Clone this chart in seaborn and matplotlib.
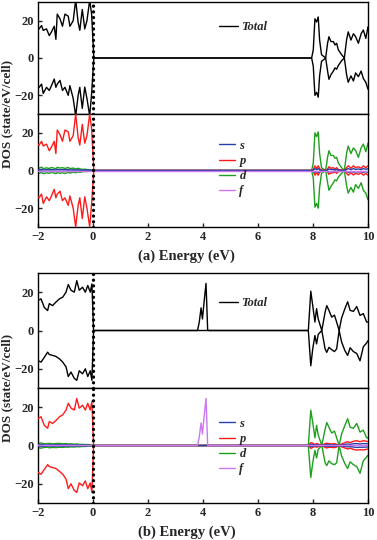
import matplotlib
matplotlib.use("Agg")
import matplotlib.pyplot as plt
import seaborn as sns

# ---------- panel (a) ----------
energy_a = [-2.0, -1.96, -1.87, -1.81, -1.69, -1.59, -1.51, -1.41, -1.35, -1.30, -1.20, -1.11, -1.02,
            -0.90, -0.84, -0.72, -0.63, -0.54, -0.48, -0.39, -0.30, -0.22, -0.12, -0.05, 0.03,
            7.95, 8.01, 8.07, 8.13, 8.19, 8.24, 8.31, 8.46, 8.53, 8.58, 8.65, 8.74, 8.80, 8.86,
            8.92, 9.04, 9.14, 9.22, 9.28, 9.38, 9.47, 9.55, 9.65, 9.75, 9.83, 9.92, 10.0]
tot_up_a = [16, 15.6, 17.4, 14.8, 15.6, 12, 14, 17, 10, 23.5, 21, 17, 23.5, 22.4, 17, 20, 31, 19, 14.8, 26,
            15.6, 20, 31, 23.5, 0,
            0, 4.4, 21, 19.3, 22, 9.6, 1.8, 0, 7.9, 11.4, 8.8, 8.8, 7, 7.9, 4.4, 1.8, 0, 9.6, 14, 9.6,
            13, 11.4, 7.9, 13, 15, 10.5, 16.7]
tot_dn_a = [-16, -15.7, -14, -19, -15.7, -17.4, -14.8, -11.3, -15.7, -14, -12, -17.4, -15.7, -20, -14.8,
            -21.7, -31, -20, -15.7, -27, -15.6, -21.7, -31, -19, 0,
            0, -4.4, -20, -18.4, -21, -9.6, -1.8, 0, -7, -11.4, -9, -7, -5.3, -6, -4, -1.5, 0, -8.8,
            -13, -9.6, -12.3, -8, -10, -7, -11, -13, -16.7]
s_up_a = [0.5, 0.4, 0.6, 0.3, 0.5, 0.4, 0.5, 0.4, 0.3, 0.6, 0.4, 0.5, 0.4, 0.5, 0.3, 0.4, 0.3, 0.4, 0.3,
          0.2, 0.3, 0.2, 0.2, 0.1, 0,
          0, 0.2, 1.0, 0.4, 1.0, 0.4, 0.1, 0, 0.3, 0.8, 0.5, 0.6, 0.3, 0.6, 0.2, 0.1, 0, 0.6, 1.0, 0.5,
          1.0, 0.6, 0.8, 0.5, 1.0, 0.6, 1.0]
s_dn_a = [-0.4, -0.5, -0.3, -0.6, -0.4, -0.5, -0.3, -0.5, -0.6, -0.4, -0.5, -0.4, -0.5, -0.3, -0.5, -0.3,
          -0.4, -0.3, -0.3, -0.2, -0.2, -0.2, -0.1, -0.1, 0,
          0, -0.2, -1.0, -0.5, -1.0, -0.4, -0.1, 0, -0.3, -0.8, -0.6, -0.5, -0.3, -0.6, -0.2, -0.1, 0,
          -0.5, -1.0, -0.5, -0.9, -0.6, -0.8, -0.5, -1.0, -0.6, -1.0]
p_up_a = [14, 13.5, 15.5, 13, 14, 10.5, 12.5, 15.5, 9, 21.5, 19, 15.5, 21.5, 20.5, 15.5, 18.5, 30, 17.5,
          13.5, 24.5, 14.5, 18.5, 30, 22, 0,
          0, 0.5, 2.5, 1.0, 2.5, 1.0, 0.3, 0, 0.8, 2.0, 1.2, 1.5, 0.8, 1.5, 0.5, 0.3, 0, 1.5, 2.5, 1.2,
          2.5, 1.5, 2.0, 1.2, 2.5, 1.5, 2.5]
p_dn_a = [-14, -14.5, -12.5, -17.5, -14, -16, -13.5, -10, -14.5, -12.5, -11, -16, -14.5, -18.5, -13.5,
          -20, -30, -18.5, -14.5, -25.5, -14, -20, -30, -17.5, 0,
          0, -0.5, -2.5, -1.2, -2.5, -1.0, -0.3, 0, -0.8, -2.0, -1.4, -1.2, -0.8, -1.5, -0.6, -0.3, 0,
          -1.4, -2.5, -1.2, -2.4, -1.5, -2.0, -1.3, -2.5, -1.6, -2.5]
d_up_a = [1.5, 1.2, 1.8, 1.0, 1.4, 1.1, 1.6, 1.2, 0.9, 1.7, 1.3, 1.5, 1.1, 1.6, 1.0, 1.3, 0.8, 1.2, 0.9,
          0.6, 0.7, 0.5, 0.4, 0.3, 0,
          0, 4, 20, 18, 20.5, 9, 1.5, 0, 7, 10.5, 8, 8, 6.5, 7, 4, 1.5, 0, 9, 13, 9, 12, 10.5, 7, 12,
          14, 10, 14.5]
d_dn_a = [-1.3, -1.6, -1.0, -1.7, -1.2, -1.5, -1.0, -1.4, -1.7, -1.1, -1.5, -1.2, -1.6, -1.0, -1.4, -0.9,
          -1.2, -0.8, -1.0, -0.7, -0.5, -0.6, -0.3, -0.4, 0,
          0, -4, -19.5, -17.5, -20, -9, -1.5, 0, -6.5, -10.5, -8.5, -6.5, -5, -5.5, -3.5, -1.5, 0, -8,
          -12, -9, -11.5, -7.5, -9.5, -6.5, -10.5, -12, -15.5]
f_energy_a = [-2.0, 10.0]
f_a = [0, 0]

# ---------- panel (b) ----------
energy_b = [-2.0, -1.89, -1.77, -1.65, -1.59, -1.47, -1.35, -1.22, -1.10, -0.98, -0.90, -0.80, -0.68,
            -0.59, -0.50, -0.38, -0.28, -0.19, -0.10, -0.04, 0.02,
            7.83, 7.92, 7.99, 8.07, 8.13, 8.19, 8.32, 8.44, 8.50, 8.58, 8.68, 8.78, 8.86, 8.95, 9.04,
            9.16, 9.26, 9.35, 9.47, 9.59, 9.71, 9.83, 9.95, 10.0]
energy_b_up = [-2.0, -1.89, -1.77, -1.65, -1.59, -1.47, -1.35, -1.22, -1.10, -0.98, -0.90, -0.80, -0.68,
               -0.59, -0.50, -0.38, -0.28, -0.19, -0.10, -0.04, 0.02,
               3.80, 3.86, 3.93, 3.98, 4.04, 4.11, 4.17,
               7.83, 7.92, 7.99, 8.07, 8.13, 8.19, 8.32, 8.44, 8.50, 8.58, 8.68, 8.78, 8.86, 8.95, 9.04,
               9.16, 9.26, 9.35, 9.47, 9.59, 9.71, 9.83, 9.95, 10.0]
tot_up_b = [15.7, 16.5, 12, 10.4, 14, 13, 14.8, 16.5, 17.4, 20, 24, 21, 20, 26, 21, 22.6, 20, 23.5, 20,
            24.3, 0,
            0, 4, 11.8, 6, 15, 24.6, 0,
            0, 20.5, 13, 4.4, 11.4, 6, 0, 9.6, 13, 10.5, 7, 8, 4.4, 0, 6.5, 11.4, 15, 10.5, 10, 12.5,
            7.9, 8.8, 4.4, 4.4]
tot_dn_b = [-15.7, -16.5, -14, -11.3, -12.5, -13, -13.5, -14.8, -16.5, -19, -24, -21.7, -25, -26, -21,
            -22.6, -20, -24, -21, -26, 0,
            0, -18.4, -9.6, -2.6, -7, -2, 0, -9.6, -11.4, -8.8, -10, -11, -9.6, 0, -6, -10.5, -13, -9,
            -11, -12, -15.8, -8.5, -6.5, -5.3]
s_up_b = [0.4, 0.5, 0.3, 0.3, 0.4, 0.3, 0.4, 0.4, 0.3, 0.4, 0.3, 0.3, 0.3, 0.3, 0.2, 0.2, 0.2, 0.2, 0.1,
          0.1, 0,
          0, 0.6, 0.5, 0.2, 0.4, 0.3, 0, 0.4, 0.5, 0.4, 0.3, 0.4, 0.3, 0, 0.3, 0.6, 0.8, 0.6, 0.9,
          1.0, 0.8, 1.0, 0.9, 0.8]
s_dn_b = [-0.3, -0.4, -0.4, -0.3, -0.3, -0.4, -0.3, -0.3, -0.4, -0.3, -0.3, -0.3, -0.2, -0.3, -0.2, -0.2,
          -0.2, -0.1, -0.1, -0.1, 0,
          0, -0.6, -0.4, -0.2, -0.4, -0.2, 0, -0.4, -0.5, -0.4, -0.4, -0.4, -0.3, 0, -0.3, -0.5, -0.7,
          -0.6, -0.8, -1.0, -0.9, -0.9, -0.8, -0.7]
p_up_b = [14, 15, 10.5, 9, 12.5, 11.5, 13, 15, 16, 18.5, 22, 19.5, 18.5, 24.5, 19.5, 21, 18.5, 22, 18.5,
          23, 0,
          0, 1.5, 1.2, 0.5, 1.0, 0.8, 0, 1.0, 1.2, 1.0, 0.8, 1.0, 0.6, 0, 0.8, 1.5, 2.0, 1.5, 2.2,
          2.5, 2.0, 2.5, 2.2, 2.0]
p_dn_b = [-14, -15, -12.5, -10, -11, -11.5, -12, -13.5, -15, -17.5, -22.5, -20, -23.5, -24.5, -19.5, -21,
          -18.5, -22.5, -19.5, -24.5, 0,
          0, -1.5, -1.0, -0.5, -0.9, -0.6, 0, -1.0, -1.3, -0.9, -1.0, -1.1, -0.8, 0, -0.7, -1.3, -1.8,
          -1.4, -2.0, -2.4, -2.2, -2.3, -2.0, -1.8]
d_up_b = [1.2, 1.3, 0.9, 1.0, 1.1, 0.9, 1.0, 1.1, 0.9, 1.0, 0.8, 0.9, 0.7, 0.8, 0.6, 0.6, 0.5, 0.5, 0.4,
          0.3, 0,
          0, 18.4, 12, 4, 10.5, 5.5, 0, 8.5, 12, 9.5, 6.5, 7.5, 4, 0, 6, 10.5, 14, 9.5, 9, 11.5, 7, 8,
          4, 4]
d_dn_b = [-1.1, -1.4, -1.0, -0.9, -1.2, -1.0, -1.1, -0.9, -1.0, -0.8, -0.9, -0.7, -0.8, -0.6, -0.7, -0.5,
          -0.5, -0.4, -0.3, -0.3, 0,
          0, -16.7, -9, -2.5, -6.5, -2, 0, -9, -10.5, -8, -9.5, -10, -9, 0, -5.5, -9.5, -12, -8.5, -10,
          -11, -14.5, -8, -6, -5]
f_energy_b = [-2.0, 3.80, 3.86, 3.93, 3.98, 4.04, 4.11, 4.17, 10.0]
f_b = [0, 0, 4, 11.8, 6, 15, 24.6, 0, 0]

x_ticks = [-2, 0, 2, 4, 6, 8, 10]
y_ticks = [-20, 0, 20]
panel_labels = ["(a) Energy (eV)", "(b) Energy (eV)"]
ylabel = "DOS (state/eV/cell)"

colors = {"Total": "black", "s": "#2b3fa8", "p": "#ff1a1a", "d": "#1ea01e", "f": "#cc77f0"}

sns.set_style("white")
plt.rcParams["font.family"] = ["Liberation Serif", "DejaVu Serif"]
plt.rcParams["font.weight"] = "bold"
plt.rcParams["axes.linewidth"] = 1.0

fig = plt.figure(figsize=(3.77, 5.40), dpi=100)

left, width = 38 / 377, 330 / 377
# (top_px, bottom_px) for each of the four axes
boxes = [(2, 114), (114, 227), (273, 388), (388, 503)]
axes = []
for top, bot in boxes:
    axes.append(fig.add_axes([left, 1 - bot / 540, width, (bot - top) / 540]))

leg_font = dict(family="Liberation Serif", weight="bold", style="italic", size=9)


def draw(ax, x, y, color, lw=1.0, z=2):
    sns.lineplot(x=x, y=y, ax=ax, color=color, linewidth=lw, zorder=z, sort=False, estimator=None)
    return ax.lines[-1]


panels = [
    dict(e=energy_a, e_up=energy_a, tot_up=tot_up_a, tot_dn=tot_dn_a, s=(s_up_a, s_dn_a),
         p=(p_up_a, p_dn_a), d=(d_up_a, d_dn_a), fe=f_energy_a, f=f_a,
         tot_leg=0.777, orb_leg=0.518),
    dict(e=energy_b, e_up=energy_b_up, tot_up=tot_up_b, tot_dn=tot_dn_b, s=(s_up_b, s_dn_b),
         p=(p_up_b, p_dn_b), d=(d_up_b, d_dn_b), fe=f_energy_b, f=f_b,
         tot_leg=0.739, orb_leg=0.491),
]

for i, pn in enumerate(panels):
    ax_t = axes[2 * i]
    ax_o = axes[2 * i + 1]

    h_tot = draw(ax_t, pn["e_up"], pn["tot_up"], colors["Total"])
    draw(ax_t, pn["e"], pn["tot_dn"], colors["Total"])
    ax_t.legend([h_tot], ["Total"], loc="center left", bbox_to_anchor=(0.548, pn["tot_leg"]),
                frameon=False, prop=leg_font, handlelength=1.5, handletextpad=0.3,
                borderpad=0, borderaxespad=0)

    h_d = draw(ax_o, pn["e"], pn["d"][0], colors["d"], z=2)
    draw(ax_o, pn["e"], pn["d"][1], colors["d"], z=2)
    h_p = draw(ax_o, pn["e"], pn["p"][0], colors["p"], z=3)
    draw(ax_o, pn["e"], pn["p"][1], colors["p"], z=3)
    h_s = draw(ax_o, pn["e"], pn["s"][0], colors["s"], z=4)
    draw(ax_o, pn["e"], pn["s"][1], colors["s"], z=4)
    h_f = draw(ax_o, pn["fe"], pn["f"], colors["f"], z=5)
    ax_o.legend([h_s, h_p, h_d, h_f], ["s", "p", "d", "f"], loc="center left",
                bbox_to_anchor=(0.548, pn["orb_leg"]), frameon=False, prop=leg_font,
                handlelength=1.3, handletextpad=0.35, borderpad=0, borderaxespad=0,
                labelspacing=0.25)

    for ax in (ax_t, ax_o):
        ax.axvline(0, color="black", lw=2.4, ls=(0, (0.01, 1.7)), dash_capstyle="round", zorder=6)
        ax.set_xlim(-2, 10)
        ax.set_ylim(-30, 30)
        ax.set_yticks(y_ticks)
        ax.set_xticks(x_ticks)
        ax.tick_params(direction="in", length=3, width=1, labelsize=9, pad=3,
                       left=True, bottom=True, top=False, right=False)
        for lab in ax.get_yticklabels() + ax.get_xticklabels():
            lab.set_fontweight("bold")
        for sp in ax.spines.values():
            sp.set_color("black")
            sp.set_linewidth(1.0)
        ax.set_xlabel("")
        ax.set_ylabel("")
    ax_t.tick_params(bottom=False, labelbottom=False)

fig.text(0.495, 1 - 256 / 540, panel_labels[0], ha="center", va="center", fontsize=10.5,
         fontweight="bold")
fig.text(0.495, 1 - 532 / 540, panel_labels[1], ha="center", va="center", fontsize=10.5,
         fontweight="bold")
fig.text(0.02, 1 - 114 / 540, ylabel, rotation=90, ha="center", va="center", fontsize=9.5,
         fontweight="bold")
fig.text(0.02, 1 - 388 / 540, ylabel, rotation=90, ha="center", va="center", fontsize=9.5,
         fontweight="bold")

fig.savefig("out.png", dpi=100)
